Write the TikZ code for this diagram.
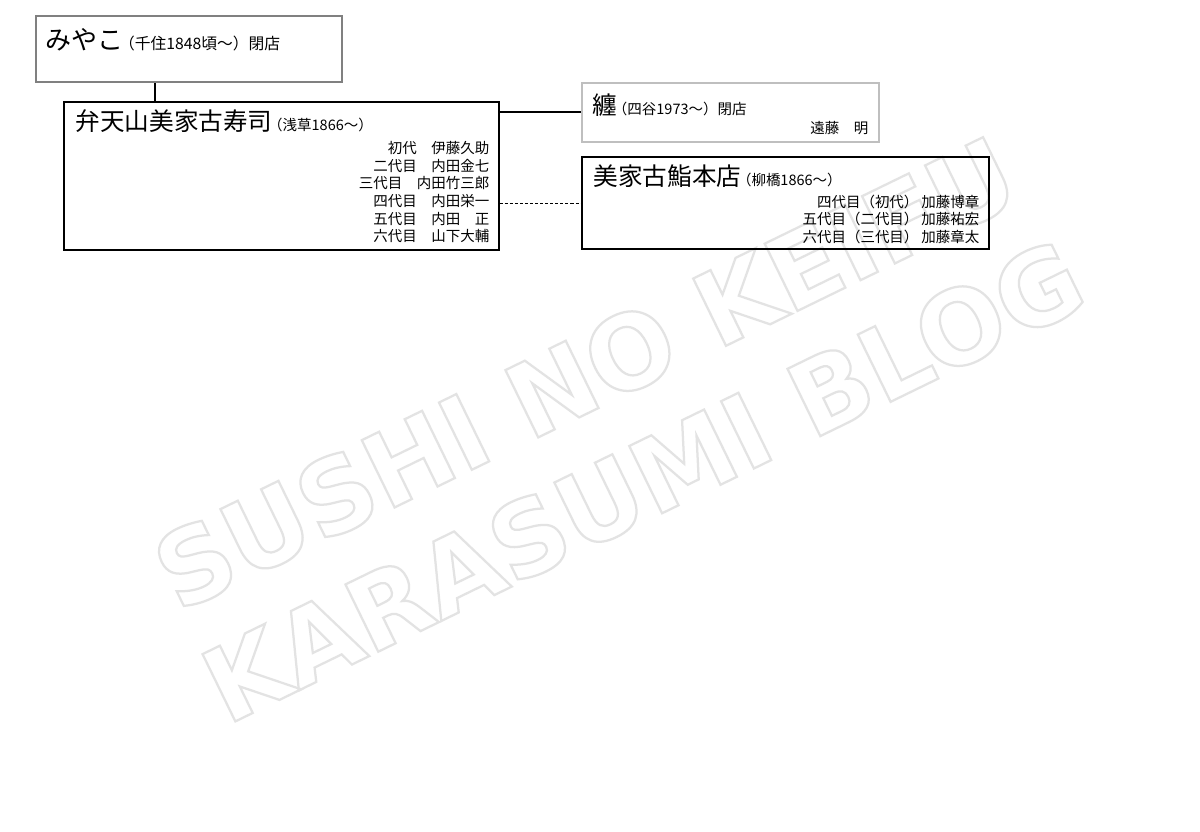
\documentclass[tikz,border=0pt]{standalone}
\usepackage{fontspec}
\setmainfont{Noto Sans CJK JP}
\newfontfamily\markfont{DejaVu Sans}
\usetikzlibrary{calc}
\def\hollow#1{\special{pdf:literal direct 1 Tr 1.6 w}#1\special{pdf:literal direct 0 Tr}}
\def\shopname#1#2{{\fontsize{17.5}{21}\selectfont #1}{\fontsize{10.3}{12}\selectfont\hspace{-0.3em}#2}}
\def\gap{\hspace{0.2em}}
\tikzset{
	shop/.style={draw=black, line width=0.8pt, inner sep=0pt},
	gentext/.style={inner sep=0pt, font=\fontsize{10.3}{12}\selectfont},
	link/.style={line width=0.8pt, color=black},
	watermark/.style={rotate=26, inner sep=0pt, text=black!11, font=\markfont\bfseries\fontsize{73}{73}\selectfont}
}

\begin{document}
\begin{tikzpicture}[x=0.025cm, y=-0.025cm]
		%%%%% START %%%%%
		\path[fill=white, use as bounding box] (0, 0) rectangle (1200, 831);
		
		% watermark
		\node[watermark] (marktop) at (585, 373) {\hollow{SUSHI NO KEIFU}};
		\node[watermark] (markbottom) at (643, 481) {\hollow{KARASUMI BLOG}};
		
		% shops
		\node[shop, draw=black!50, line width=2.1pt, minimum width=306*0.025cm, minimum height=66*0.025cm] (miyako) at (189, 49) {};
		\node[shop, minimum width=435*0.025cm, minimum height=148*0.025cm] (benten) at (281.5, 176) {};
		\node[shop, draw=black!25, minimum width=297*0.025cm, minimum height=59*0.025cm] (matoi) at (730.5, 112.5) {};
		\node[shop, minimum width=407*0.025cm, minimum height=92*0.025cm] (honten) at (785.5, 203) {};
		
		\node[gentext, anchor=base west] (miyakoname) at ($(miyako.north west)+(11, 35)$) {{\fontsize{18.5}{22}\selectfont みやこ}{\fontsize{11.2}{13}\selectfont\hspace{-0.3em}（千住1848頃〜）閉店}};
		\node[gentext, anchor=base west] (bentenname) at ($(benten.north west)+(12, 29)$) {\shopname{弁天山美家古寿司}{（浅草1866〜）}};
		\node[gentext, anchor=base west] (matoiname) at ($(matoi.north west)+(11, 32)$) {\shopname{纏}{（四谷1973〜）閉店}};
		\node[gentext, anchor=base west] (hontenname) at ($(honten.north west)+(12, 29)$) {\shopname{美家古鮨本店}{（柳橋1866〜）}};
		
		% masters
		\foreach \master [count=\i] in {初代　伊藤久助, 二代目　内田金七, 三代目　内田竹三郎, 四代目　内田栄一, 五代目　内田　正, 六代目　山下大輔}
			\node[gentext, anchor=base east] (benten\i) at ($(benten.north east)+(-10, 34.3+17.7*\i)$) {\master};
		\node[gentext, anchor=base east] (matoi1) at ($(matoi.north east)+(-11, 51)$) {遠藤　明};
		\foreach \master [count=\i] in {四代目（初代）\gap 加藤博章, 五代目（二代目）\gap 加藤祐宏, 六代目（三代目）\gap 加藤章太}
			\node[gentext, anchor=base east] (honten\i) at ($(honten.north east)+(-10, 32.9+17.7*\i)$) {\master};
		
		% lines
		\draw[link] (miyako.south -| 155, 0) -- (benten.north -| 155, 0);
		\draw[link] (benten.east |- 0, 112) -- (matoi.west |- 0, 112);
		\draw[link, dash pattern=on 2.2pt off 1.4pt] (benten.east |- 0, 203.5) -- (honten.west |- 0, 203.5);
		%%%%% END %%%%%
	\end{tikzpicture}
\end{document}
